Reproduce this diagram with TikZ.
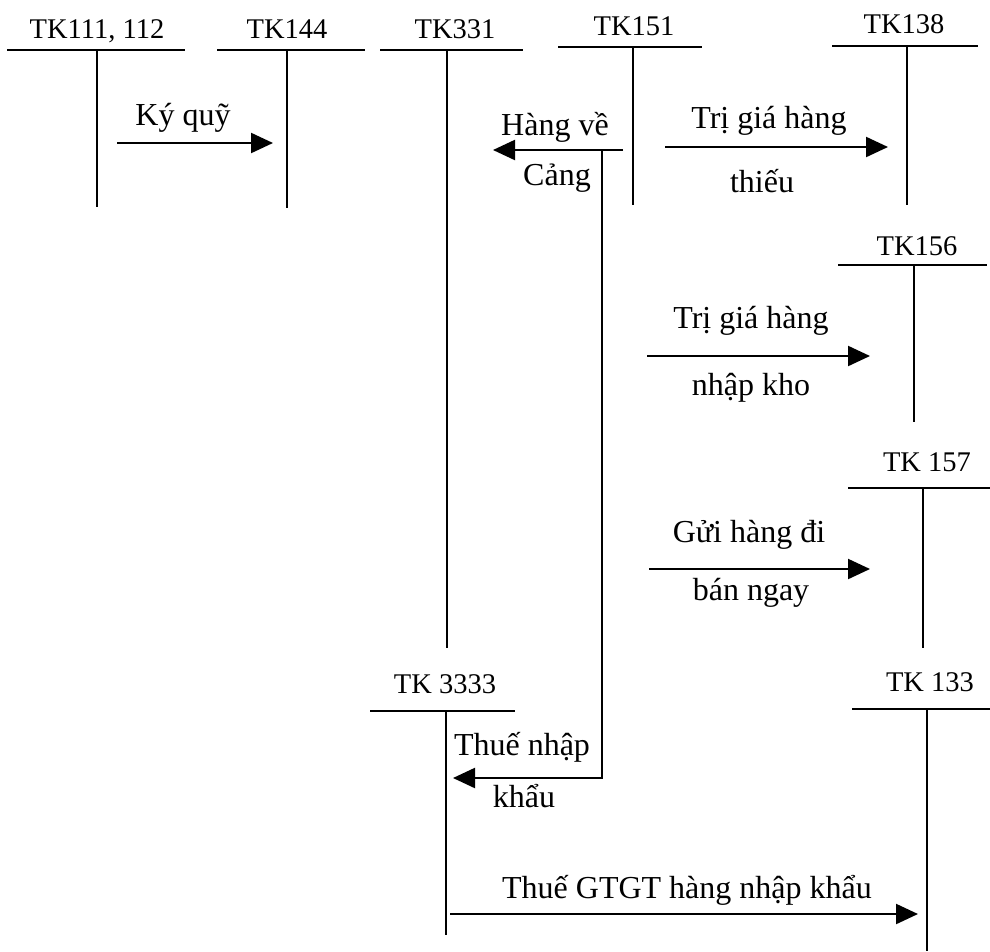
\documentclass[tikz,border=0pt]{standalone}
\usepackage{fontspec}
\setmainfont{Liberation Serif}
\usetikzlibrary{arrows.meta}

\begin{document}
\begin{tikzpicture}[
  x=1pt,y=-1pt,
  >={Triangle[length=22pt,width=20pt]},
  % account titles sit on their baseline above the T bar
  ttl/.style={font=\fontsize{28.5}{32}\selectfont,anchor=base,inner sep=0pt},
  lbl/.style={font=\fontsize{32}{36}\selectfont,anchor=base,inner sep=0pt},
  tacc/.style={line width=2.2pt},
  arr/.style={->,line width=2.2pt},
]
\useasboundingbox (0,0) rectangle (990,951);

% ------------------------------------------------------------ account titles
\node[ttl] (tk111)  at (97,38)  {TK111, 112};
\node[ttl] (tk144)  at (287,38) {TK144};
\node[ttl] (tk331)  at (455,38) {TK331};
\node[ttl] (tk151)  at (634,35) {TK151};
\node[ttl] (tk138)  at (904,33) {TK138};
\node[ttl] (tk156)  at (917,255) {TK156};
\node[ttl] (tk157)  at (927,471) {TK 157};
\node[ttl] (tk3333) at (445,693) {TK 3333};
\node[ttl] (tk133)  at (930,691) {TK 133};

% ------------------------------------------------------------------ T bars
\draw[tacc] (7,50) -- (185,50)    (97,50) -- (97,207);
\draw[tacc] (217,50) -- (365,50)  (287,50) -- (287,208);
\draw[tacc] (380,50) -- (523,50)  (447,50) -- (447,648);
\draw[tacc] (558,47) -- (702,47)  (633,47) -- (633,205);
\draw[tacc] (832,46) -- (978,46)  (907,46) -- (907,205);
\draw[tacc] (838,265) -- (987,265) (914,265) -- (914,422);
\draw[tacc] (848,488) -- (990,488) (923,488) -- (923,648);
\draw[tacc] (370,711) -- (515,711) (446,711) -- (446,935);
\draw[tacc] (852,709) -- (990,709) (927,709) -- (927,951);

% ------------------------------------------------------- arrow end points
\coordinate (kqA)  at (117,143);
\coordinate (kqB)  at (273,143);
\coordinate (hvA)  at (623,150);
\coordinate (hvB)  at (493,150);
\coordinate (hvK)  at (602,150);
\coordinate (nkC)  at (602,778);
\coordinate (nkB)  at (453,778);
\coordinate (thA)  at (665,147);
\coordinate (thB)  at (888,147);
\coordinate (kA)   at (647,356);
\coordinate (kB)   at (870,356);
\coordinate (bnA)  at (649,569);
\coordinate (bnB)  at (870,569);
\coordinate (vatA) at (450,914);
\coordinate (vatB) at (918,914);

% ------------------------------------------------------------------ entries
\draw[arr] (kqA) -- (kqB);
\draw[arr] (hvA) -- (hvB);
\draw[arr] (hvK) -- (nkC) -- (nkB);
\draw[arr] (thA) -- (thB);
\draw[arr] (kA)  -- (kB);
\draw[arr] (bnA) -- (bnB);
\draw[arr] (vatA) -- (vatB);

% ------------------------------------------------------------------- labels
\node[lbl] (lkq)  at (183,125) {Ký quỹ};
\node[lbl] (lhv)  at (555,135) {Hàng về};
\node[lbl] (lcg)  at (557,185) {Cảng};
\node[lbl] (lth1) at (769,128) {Trị giá hàng};
\node[lbl] (lth2) at (762,192) {thiếu};
\node[lbl] (lk1)  at (751,328) {Trị giá hàng};
\node[lbl] (lk2)  at (751,395) {nhập kho};
\node[lbl] (lbn1) at (749,542) {Gửi hàng đi};
\node[lbl] (lbn2) at (751,600) {bán ngay};
\node[lbl] (lnk1) at (522,755) {Thuế nhập};
\node[lbl] (lnk2) at (524,807) {khẩu};
\node[lbl] (lvat) at (687,898) {Thuế GTGT hàng nhập khẩu};

\end{tikzpicture}
\end{document}
